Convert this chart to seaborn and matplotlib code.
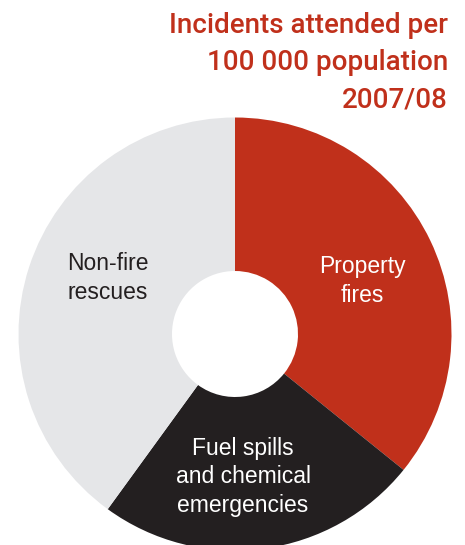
import matplotlib
matplotlib.use("Agg")
import matplotlib.pyplot as plt
import seaborn as sns

sns.set_theme(style="white")
plt.rcParams['font.family'] = ['Liberation Sans', 'DejaVu Sans']

# share of incidents attended
categories = ["Property\nfires", "Fuel spills\nand chemical\nemergencies", "Non-fire\nrescues"]
shares = [35.8, 24.2, 40.0]
colors = ["#C0301B", "#231F20", "#E5E6E8"]
label_colors = ["white", "white", "#231F20"]
label_pos = [(0.587, 0.245), (0.037, -0.66), (-0.587, 0.259)]

title = "Incidents attended per\n100 000 population\n2007/08"

fig = plt.figure(figsize=(4.65, 5.45), dpi=100)
W, H = 465, 545
cx, cy, r = 235, 334, 216.5
ax = fig.add_axes([(cx - r) / W, (H - cy - r) / H, 2 * r / W, 2 * r / H])

wedges, _ = ax.pie(shares, colors=colors, startangle=90, counterclock=False,
                   radius=1, wedgeprops=dict(width=0.709, linewidth=0))
ax.set_xlim(-1, 1)
ax.set_ylim(-1, 1)
ax.axis('off')

for lab, (x, y), c in zip(categories, label_pos, label_colors):
    ax.text(x, y, lab, ha='center', va='center', fontsize=16.5,
            color=c, linespacing=1.32)

fig.text(448 / W, 1 - 12 / H, title, ha='right', va='top', fontsize=20,
         fontweight='medium', color="#C0301B", linespacing=1.49,
         family=['Roboto', 'Liberation Sans'])

fig.savefig("out.png", dpi=100)
